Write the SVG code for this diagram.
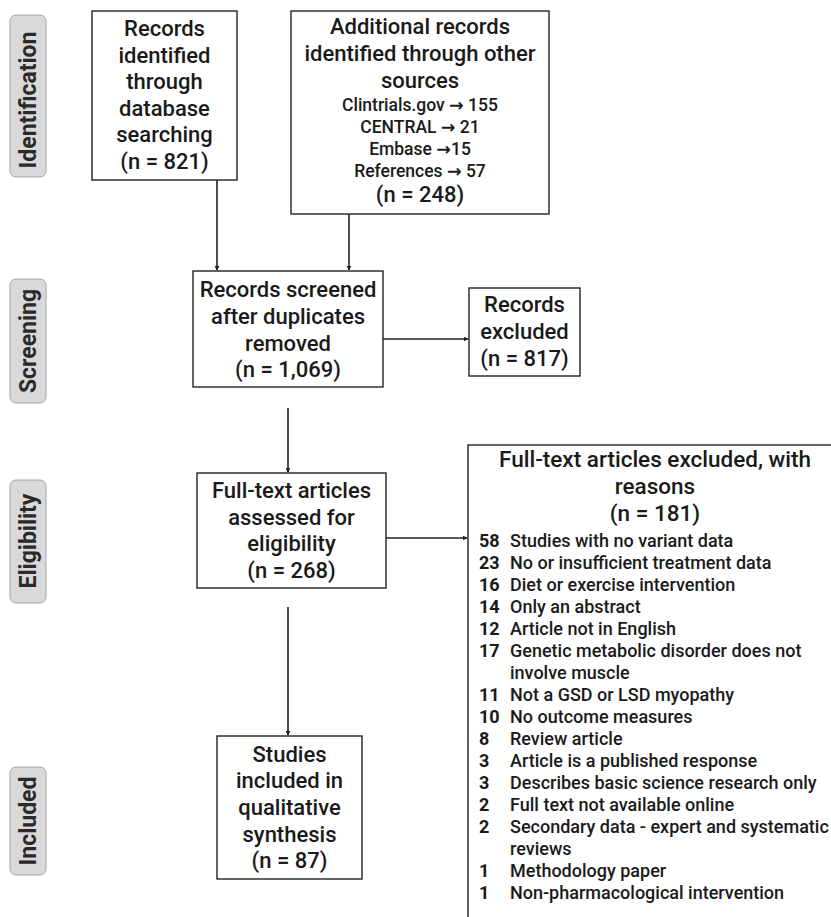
<svg xmlns="http://www.w3.org/2000/svg" width="831" height="917" viewBox="0 0 831 917">
<style>
.bg{fill:#fff}
.box{fill:#fff;stroke:#222;stroke-width:1.4}
.lab{fill:#d9d9d9;stroke:#a6a6a6;stroke-width:1}
.lt{font-family:Roboto,"Liberation Sans",sans-serif;font-weight:bold;font-size:23px;fill:#2a2a2a;text-anchor:middle}
.t{font-family:Roboto,"Liberation Sans",sans-serif;font-weight:500;font-size:22px;fill:#1a1a1a;text-anchor:middle}
.s{font-family:Roboto,"Liberation Sans",sans-serif;font-weight:500;font-size:17.5px;fill:#1a1a1a;text-anchor:middle}
.a{font-family:"DejaVu Sans",sans-serif;font-weight:bold}
.l{font-family:Roboto,"Liberation Sans",sans-serif;font-weight:500;font-size:18px;fill:#1a1a1a}
.n{font-weight:bold}
.c{fill:none;stroke:#222;stroke-width:1.6}
</style>
<defs>
<marker id="ah" viewBox="0 0 8 8" refX="7" refY="4" markerWidth="5" markerHeight="5" orient="auto" markerUnits="userSpaceOnUse">
<path d="M0,0 L8,4 L0,8 z" fill="#222"/>
</marker>
</defs>
<rect class="bg" x="0" y="0" width="831" height="917"/>

<g id="label-identification">
<rect class="lab" x="10" y="15" width="36" height="162" rx="6"/>
<text class="lt" transform="translate(36,100) rotate(-90)">Identification</text>
</g>
<g id="label-screening">
<rect class="lab" x="10" y="279" width="36" height="124" rx="6"/>
<text class="lt" transform="translate(36,341) rotate(-90)">Screening</text>
</g>
<g id="label-eligibility">
<rect class="lab" x="10" y="480" width="36" height="123" rx="6"/>
<text class="lt" transform="translate(36,541) rotate(-90)">Eligibility</text>
</g>
<g id="label-included">
<rect class="lab" x="10" y="767" width="36" height="108" rx="6"/>
<text class="lt" transform="translate(36,821) rotate(-90)">Included</text>
</g>

<g id="node-records-identified">
<rect class="box" x="92" y="11" width="145" height="169"/>
<text class="t" x="164.5" y="36">Records</text>
<text class="t" x="164.5" y="62.5">identified</text>
<text class="t" x="164.5" y="89">through</text>
<text class="t" x="164.5" y="115.5">database</text>
<text class="t" x="164.5" y="142">searching</text>
<text class="t" x="164.5" y="168.5">(n = 821)</text>
</g>

<g id="node-additional-records">
<rect class="box" x="291" y="11" width="258" height="203"/>
<text class="t" x="420" y="34">Additional records</text>
<text class="t" x="420" y="61">identified through other</text>
<text class="t" x="420" y="88">sources</text>
<text class="s" x="420" y="111">Clintrials.gov <tspan class="a">→</tspan> 155</text>
<text class="s" x="420" y="133">CENTRAL <tspan class="a">→</tspan> 21</text>
<text class="s" x="420" y="155">Embase <tspan class="a">→</tspan>15</text>
<text class="s" x="420" y="177">References <tspan class="a">→</tspan> 57</text>
<text class="t" x="420" y="202">(n = 248)</text>
</g>

<g id="node-records-screened">
<rect class="box" x="193" y="271" width="190" height="116"/>
<text class="t" x="288" y="297">Records screened</text>
<text class="t" x="288" y="324">after duplicates</text>
<text class="t" x="288" y="351">removed</text>
<text class="t" x="288" y="377">(n = 1,069)</text>
</g>

<g id="node-records-excluded">
<rect class="box" x="469" y="288" width="111" height="88"/>
<text class="t" x="524.5" y="312">Records</text>
<text class="t" x="524.5" y="339">excluded</text>
<text class="t" x="524.5" y="366">(n = 817)</text>
</g>

<g id="node-full-text-assessed">
<rect class="box" x="197" y="473" width="189" height="115"/>
<text class="t" x="291.5" y="498">Full-text articles</text>
<text class="t" x="291.5" y="525">assessed for</text>
<text class="t" x="291.5" y="551">eligibility</text>
<text class="t" x="291.5" y="578">(n = 268)</text>
</g>

<g id="node-studies-included">
<rect class="box" x="217" y="736" width="145" height="143"/>
<text class="t" x="289.5" y="762">Studies</text>
<text class="t" x="289.5" y="788">included in</text>
<text class="t" x="289.5" y="815">qualitative</text>
<text class="t" x="289.5" y="842">synthesis</text>
<text class="t" x="289.5" y="868">(n = 87)</text>
</g>

<g id="node-full-text-excluded">
<rect class="box" x="468" y="445" width="420" height="520"/>
<text class="t" x="655" y="467" style="font-size:22.5px">Full-text articles excluded, with</text>
<text class="t" x="655" y="494" style="font-size:22.5px">reasons</text>
<text class="t" x="655" y="521" style="font-size:22.5px">(n = 181)</text>
<g class="l">
<text x="479" y="547"><tspan class="n">58</tspan></text><text x="510" y="547">Studies with no variant data</text>
<text x="479" y="569"><tspan class="n">23</tspan></text><text x="510" y="569">No or insufficient treatment data</text>
<text x="479" y="591"><tspan class="n">16</tspan></text><text x="510" y="591">Diet or exercise intervention</text>
<text x="479" y="613"><tspan class="n">14</tspan></text><text x="510" y="613">Only an abstract</text>
<text x="479" y="635"><tspan class="n">12</tspan></text><text x="510" y="635">Article not in English</text>
<text x="479" y="657"><tspan class="n">17</tspan></text><text x="510" y="657">Genetic metabolic disorder does not</text>
<text x="510" y="679">involve muscle</text>
<text x="479" y="701"><tspan class="n">11</tspan></text><text x="510" y="701">Not a GSD or LSD myopathy</text>
<text x="479" y="723"><tspan class="n">10</tspan></text><text x="510" y="723">No outcome measures</text>
<text x="479" y="745"><tspan class="n">8</tspan></text><text x="510" y="745">Review article</text>
<text x="479" y="767"><tspan class="n">3</tspan></text><text x="510" y="767">Article is a published response</text>
<text x="479" y="789"><tspan class="n">3</tspan></text><text x="510" y="789">Describes basic science research only</text>
<text x="479" y="811"><tspan class="n">2</tspan></text><text x="510" y="811">Full text not available online</text>
<text x="479" y="833"><tspan class="n">2</tspan></text><text x="510" y="833">Secondary data - expert and systematic</text>
<text x="510" y="855">reviews</text>
<text x="479" y="877"><tspan class="n">1</tspan></text><text x="510" y="877">Methodology paper</text>
<text x="479" y="899"><tspan class="n">1</tspan></text><text x="510" y="899">Non-pharmacological intervention</text>
</g>
</g>

<g id="connectors">
<line class="c" x1="217" y1="180" x2="217" y2="270" marker-end="url(#ah)"/>
<line class="c" x1="349" y1="214" x2="349" y2="270" marker-end="url(#ah)"/>
<line class="c" x1="383" y1="339" x2="468" y2="339" marker-end="url(#ah)"/>
<line class="c" x1="288" y1="408" x2="288" y2="472" marker-end="url(#ah)"/>
<line class="c" x1="288" y1="607" x2="288" y2="735" marker-end="url(#ah)"/>
<line class="c" x1="386" y1="538" x2="467" y2="538" marker-end="url(#ah)"/>
</g>
</svg>
